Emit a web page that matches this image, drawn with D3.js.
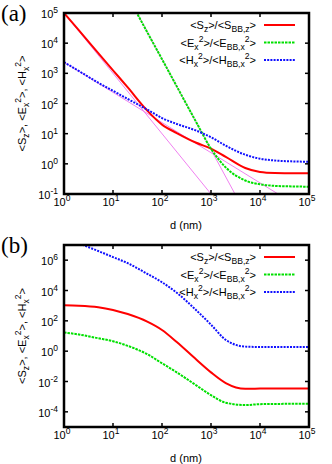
<!DOCTYPE html>
<html>
<head>
<meta charset="utf-8">
<script src="https://cdn.jsdelivr.net/npm/d3@7"></script>
<style>
  body { margin: 0; background: #fff; }
  svg text { font-family: "Liberation Sans", Arial, sans-serif; }
  svg text.panel-name { font-family: "Liberation Serif", "DejaVu Serif", serif; }
</style>
</head>
<body>
<div id="chart"></div>
<script>
// figure data

var dGrid = [1, 2, 5, 10, 20, 50, 100, 200, 500, 1000, 2000, 5000, 1e4, 2e4, 5e4, 1e5];

// panel (a)
var sA = [1e5, 2.7e4, 4.7e3, 1.26e3, 340, 58, 20, 10.5, 5.0, 3.2, 1.7, 0.73, 0.54, 0.5, 0.49, 0.49];
var eA = [null, null, null, null, 3.7e5, 2.3e4, 2950, 370, 24, 3.16, 0.76, 0.28, 0.21, 0.186, 0.178, 0.174];
var hA = [2340, 1200, 490, 263, 141, 63, 33, 21, 12.6, 7.6, 4.0, 2.0, 1.48, 1.29, 1.2, 1.17];
// thin power-law guide lines (end points)
var guideS = [[1, 1e5], [1000, 0.1]];
var guideE = [[31, 1e5], [3090, 0.1]];
var guideH = [[1, 2340], [2.34e4, 0.1]];

// panel (b)
var sB = [1050, 1000, 800, 525, 280, 89, 25, 4.0, 0.28, 0.04, 7.9e-3, 3.3e-3, 3.4e-3, 3.5e-3, 3.5e-3, 3.5e-3];
var eB = [17, 12.6, 7.1, 4.5, 2.24, 0.63, 0.16, 0.04, 5.6e-3, 1.26e-3, 4e-4, 2.8e-4, 3.2e-4, 3.3e-4, 3.4e-4, 3.4e-4];
var hB = [2.5e7, 1.26e7, 4e6, 1.6e6, 6.3e5, 1.26e5, 3.5e4, 7.1e3, 500, 56, 5.6, 2.0, 1.9, 1.9, 1.9, 1.9];

var xTicks = [1, 10, 100, 1000, 1e4, 1e5];
var yTicksA = [0.1, 1, 10, 100, 1000, 1e4, 1e5];
var yTicksB = [1e-4, 1e-2, 1, 100, 1e4, 1e6];

var legendS = [{t: "<S"}, {t: "z", s: "sub"}, {t: ">/<S"}, {t: "BB,z", s: "sub"}, {t: ">"}];
var legendE = [{t: "<E"}, {t: "x", s: "sub"}, {t: "2", s: "sup"}, {t: ">/<E"}, {t: "BB,x", s: "sub"}, {t: "2", s: "sup"}, {t: ">"}];
var legendH = [{t: "<H"}, {t: "x", s: "sub"}, {t: "2", s: "sup"}, {t: ">/<H"}, {t: "BB,x", s: "sub"}, {t: "2", s: "sup"}, {t: ">"}];
var yLabel = [{t: "<S"}, {t: "z", s: "sub"}, {t: ">, <E"}, {t: "x", s: "sub"}, {t: "2", s: "sup"}, {t: ">, <H"}, {t: "x", s: "sub"}, {t: "2", s: "sup"}, {t: ">"}];

var RED = "#ff0000", GREEN = "#00e000", BLUE = "#1010ff", PINK = "#f080f0";

var svg = d3.select("#chart").append("svg")
    .attr("width", 332)
    .attr("height", 464);

// text with sub/superscripts made from tspans
function richText(sel, parts, size) {
    var cur = 0;
    parts.forEach(function(p) {
        var target = p.s == "sub" ? 0.3 * size : (p.s == "sup" ? -0.42 * size : 0);
        sel.append("tspan")
            .attr("dy", target - cur)
            .attr("font-size", p.s ? size * 0.78 : size)
            .text(p.t);
        cur = target;
    });
}

function powLabel(sel, v) {
    var e = Math.round(Math.log10(v));
    sel.append("tspan").text("10");
    sel.append("tspan").attr("dy", -5).attr("font-size", 8.5).text(e);
}

function drawPanel(opt) {
    var x = d3.scaleLog().domain([1, 1e5]).range([64, 309]);
    var y = d3.scaleLog().domain(opt.yDomain).range([opt.bottom, opt.top]);
    var g = svg.append("g");
    var clipId = "clip-" + opt.id;

    g.append("clipPath").attr("id", clipId)
      .append("rect")
        .attr("x", 64).attr("y", opt.top)
        .attr("width", 245).attr("height", opt.bottom - opt.top);

    var plot = g.append("g").attr("clip-path", "url(#" + clipId + ")");

    var line = d3.line()
        .defined(function(d) { return d[1] != null; })
        .x(function(d) { return x(d[0]); })
        .y(function(d) { return y(d[1]); })
        .curve(d3.curveMonotoneX);

    var straight = d3.line()
        .x(function(d) { return x(d[0]); })
        .y(function(d) { return y(d[1]); });

    (opt.guides || []).forEach(function(gd) {
        plot.append("path")
            .attr("d", straight(gd))
            .attr("fill", "none")
            .attr("stroke", PINK)
            .attr("stroke-width", 1);
    });

    opt.series.forEach(function(s) {
        var pts = dGrid.map(function(d, i) { return [d, s.values[i]]; });
        plot.append("path")
            .attr("d", line(pts))
            .attr("fill", "none")
            .attr("stroke", s.color)
            .attr("stroke-width", 2)
            .attr("stroke-dasharray", s.dash);
    });

    // ticks, inward on all four sides
    xTicks.forEach(function(t) {
        g.append("line").attr("x1", x(t)).attr("x2", x(t))
            .attr("y1", opt.bottom).attr("y2", opt.bottom - 4)
            .attr("stroke", "#000").attr("stroke-width", 1.5);
        g.append("line").attr("x1", x(t)).attr("x2", x(t))
            .attr("y1", opt.top).attr("y2", opt.top + 4)
            .attr("stroke", "#000").attr("stroke-width", 1.5);
        g.append("text")
            .attr("x", x(t) - 2)
            .attr("y", opt.bottom + 12)
            .attr("text-anchor", "middle")
            .attr("font-size", 11)
            .call(powLabel, t);
    });

    opt.yTicks.forEach(function(t) {
        g.append("line").attr("x1", 64).attr("x2", 68)
            .attr("y1", y(t)).attr("y2", y(t))
            .attr("stroke", "#000").attr("stroke-width", 1.5);
        g.append("line").attr("x1", 309).attr("x2", 305)
            .attr("y1", y(t)).attr("y2", y(t))
            .attr("stroke", "#000").attr("stroke-width", 1.5);
        g.append("text")
            .attr("x", 58)
            .attr("y", y(t) + 5)
            .attr("text-anchor", "end")
            .attr("font-size", 11)
            .call(powLabel, t);
    });

    g.append("rect")
        .attr("x", 64).attr("y", opt.top)
        .attr("width", 245).attr("height", opt.bottom - opt.top)
        .attr("fill", "none")
        .attr("stroke", "#000")
        .attr("stroke-width", 2.5);

    // legend
    opt.series.forEach(function(s, i) {
        var ly = opt.top + 12 + i * 17.5;
        g.append("text")
            .attr("x", 256)
            .attr("y", ly + 4)
            .attr("text-anchor", "end")
            .attr("font-size", 11)
            .call(richText, s.label, 11);
        g.append("line")
            .attr("x1", 264).attr("x2", 295)
            .attr("y1", ly).attr("y2", ly)
            .attr("stroke", s.color)
            .attr("stroke-width", 2)
            .attr("stroke-dasharray", s.dash);
    });

    // axis titles
    g.append("text")
        .attr("x", 186)
        .attr("y", opt.bottom + 35)
        .attr("text-anchor", "middle")
        .attr("font-size", 11)
        .text("d (nm)");

    g.append("text")
        .attr("transform", "translate(26," + ((opt.top + opt.bottom) / 2) + ") rotate(-90)")
        .attr("text-anchor", "middle")
        .attr("font-size", 11)
        .call(richText, yLabel, 11);

    g.append("text")
        .attr("class", "panel-name")
        .attr("x", 1)
        .attr("y", opt.top + 8)
        .attr("font-size", 23)
        .text(opt.name);
}

drawPanel({
    id: "a", name: "(a)",
    top: 13, bottom: 194,
    yDomain: [0.1, 1e5],
    yTicks: yTicksA,
    guides: [guideS, guideE, guideH],
    series: [
        {values: sA, color: RED, dash: null, label: legendS},
        {values: eA, color: GREEN, dash: "2.5,1", label: legendE},
        {values: hA, color: BLUE, dash: "2,1.2", label: legendH}
    ]
});

drawPanel({
    id: "b", name: "(b)",
    top: 245, bottom: 427,
    yDomain: [1e-5, 1e7],
    yTicks: yTicksB,
    series: [
        {values: sB, color: RED, dash: null, label: legendS},
        {values: eB, color: GREEN, dash: "2.5,1", label: legendE},
        {values: hB, color: BLUE, dash: "2,1.2", label: legendH}
    ]
});
</script>
</body>
</html>
